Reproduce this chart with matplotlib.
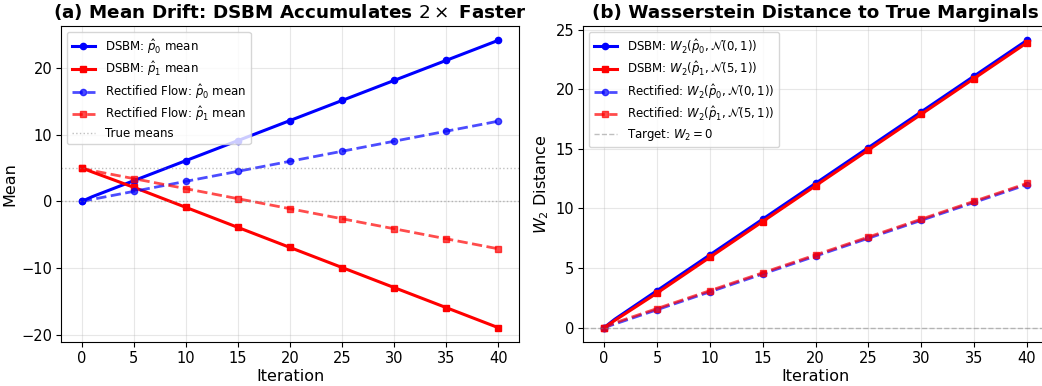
import matplotlib
matplotlib.use('Agg')
import matplotlib.pyplot as plt

# data (markers every 5 iterations)
iters = [0, 1, 5, 10, 15, 20, 25, 30, 35, 40]
dsbm_p0_mean = [0.0, 0.7, 3.1, 6.1, 9.1, 12.1, 15.1, 18.1, 21.1, 24.1]
dsbm_p1_mean = [5.0, 4.4, 2.1, -0.9, -3.9, -6.9, -9.9, -12.9, -15.9, -18.9]
rect_p0_mean = [0.0, 0.3, 1.5, 3.0, 4.5, 6.0, 7.5, 9.0, 10.5, 12.0]
rect_p1_mean = [5.0, 4.6, 3.4, 1.9, 0.4, -1.1, -2.6, -4.1, -5.6, -7.1]
true_means = [0, 5]

dsbm_w2_p0 = [0.0, 0.7, 3.1, 6.1, 9.1, 12.1, 15.1, 18.1, 21.1, 24.1]
dsbm_w2_p1 = [0.0, 0.6, 2.9, 5.9, 8.9, 11.9, 14.9, 17.9, 20.9, 23.9]
rect_w2_p0 = [0.0, 0.3, 1.5, 3.0, 4.5, 6.0, 7.5, 9.0, 10.5, 12.0]
rect_w2_p1 = [0.0, 0.4, 1.6, 3.1, 4.6, 6.1, 7.6, 9.1, 10.6, 12.1]

marks = [0] + list(range(2, len(iters)))

fig = plt.figure(figsize=(10.42, 3.86), dpi=100)
ax1 = fig.add_axes([61/1042, 44/386, 458/1042, 316/386])
ax2 = fig.add_axes([583/1042, 44/386, 465/1042, 316/386])

# (a) means
ax1.plot(iters, dsbm_p0_mean, 'b-', marker='o', ms=4.5, lw=2.2, markevery=marks, label=r'DSBM: $\hat{p}_0$ mean')
ax1.plot(iters, dsbm_p1_mean, 'r-', marker='s', ms=4.5, lw=2.2, markevery=marks, label=r'DSBM: $\hat{p}_1$ mean')
ax1.plot(iters, rect_p0_mean, 'b--', marker='o', ms=4.5, lw=2, alpha=0.7, markevery=marks, label=r'Rectified Flow: $\hat{p}_0$ mean')
ax1.plot(iters, rect_p1_mean, 'r--', marker='s', ms=4.5, lw=2, alpha=0.7, markevery=marks, label=r'Rectified Flow: $\hat{p}_1$ mean')
ax1.axhline(true_means[0], color='gray', ls=':', alpha=0.5, lw=1, label='True means')
ax1.axhline(true_means[1], color='gray', ls=':', alpha=0.5, lw=1)
ax1.set_xlabel('Iteration', fontsize=11.5, labelpad=2)
ax1.set_ylabel('Mean', fontsize=11.5, labelpad=3)
ax1.set_title(r'(a) Mean Drift: DSBM Accumulates $2\times$ Faster', fontsize=13.2, fontweight='bold')
ax1.legend(loc='upper left', fontsize=8.5, labelspacing=0.3)
ax1.grid(True, alpha=0.3)
ax1.tick_params(labelsize=10.5, pad=2.8)

# (b) W2 distances
ax2.plot(iters, dsbm_w2_p0, 'b-', marker='o', ms=4.5, lw=2.2, markevery=marks, label=r'DSBM: $W_2(\hat{p}_0, \mathcal{N}(0,1))$')
ax2.plot(iters, dsbm_w2_p1, 'r-', marker='s', ms=4.5, lw=2.2, markevery=marks, label=r'DSBM: $W_2(\hat{p}_1, \mathcal{N}(5,1))$')
ax2.plot(iters, rect_w2_p0, 'b--', marker='o', ms=4.5, lw=2, alpha=0.7, markevery=marks, label=r'Rectified: $W_2(\hat{p}_0, \mathcal{N}(0,1))$')
ax2.plot(iters, rect_w2_p1, 'r--', marker='s', ms=4.5, lw=2, alpha=0.7, markevery=marks, label=r'Rectified: $W_2(\hat{p}_1, \mathcal{N}(5,1))$')
ax2.axhline(0, color='gray', ls='--', alpha=0.5, lw=1, label=r'Target: $W_2 = 0$')
ax2.set_xlabel('Iteration', fontsize=11.5, labelpad=2)
ax2.set_ylabel(r'$W_2$ Distance', fontsize=11.5, labelpad=3)
ax2.set_title('(b) Wasserstein Distance to True Marginals', fontsize=13.2, fontweight='bold')
ax2.legend(loc='upper left', fontsize=8.5, labelspacing=0.3)
ax2.grid(True, alpha=0.3)
ax2.tick_params(labelsize=10.5, pad=2.8)

fig.savefig('out.png', dpi=100)
